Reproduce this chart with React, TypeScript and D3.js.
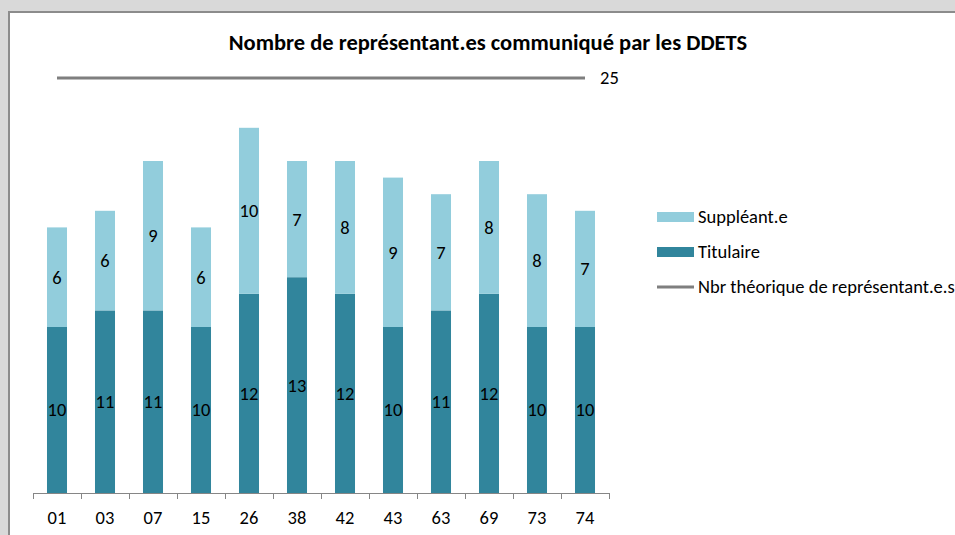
import React from "react";
import * as d3 from "d3";

const categories = ["01", "03", "07", "15", "26", "38", "42", "43", "63", "69", "73", "74"];
const titulaire = [10, 11, 11, 10, 12, 13, 12, 10, 11, 12, 10, 10];
const suppleant = [6, 6, 9, 6, 10, 7, 8, 9, 7, 8, 8, 7];
const theorique = 25;
const title = "Nombre de représentant.es communiqué  par les DDETS";
const legendLabels = ["Suppléant.e", "Titulaire", "Nbr théorique de représentant.e.s"];

const W = 955;
const H = 535;
const FONT = "Carlito, Calibri, 'Liberation Sans Narrow', 'Open Sans', sans-serif";
const DARK = "#31859C";
const LIGHT = "#92CDDC";
const FS = 18.5;

export default function App() {
  const x = d3.scaleBand<string>().domain(categories).range([33, 609]).paddingInner(0.583).paddingOuter(0.2915);
  const y = d3.scaleLinear().domain([0, 25]).range([493, 78]);
  const bw = x.bandwidth();
  const ticks = d3.range(categories.length + 1).map((i) => 33 + (i * (609 - 33)) / categories.length);

  return (
    <svg width={W} height={H} style={{ position: "absolute", left: 0, top: 0, display: "block" }}>
      <rect x={0} y={0} width={W} height={H} fill="#d9d9d9" />
      <rect x={9} y={12} width={W} height={H} fill="#ffffff" stroke="#8c8c8c" strokeWidth={2} />
      <text x={488} y={42} dy="0.35em" textAnchor="middle" fontFamily={FONT} fontWeight="bold" fontSize={22.5} fill="#000">
        {title}
      </text>
      {categories.map((c, i) => {
        const x0 = x(c)!;
        const t = titulaire[i];
        const s = suppleant[i];
        return (
          <g key={c}>
            <rect x={x0} y={y(t)} width={bw} height={y(0) - y(t)} fill={DARK} />
            <rect x={x0} y={y(t + s)} width={bw} height={y(t) - y(t + s)} fill={LIGHT} />
            <text x={x0 + bw / 2} y={(y(0) + y(t)) / 2} dy="0.35em" textAnchor="middle" fontFamily={FONT} fontSize={FS} fill="#000">
              {t}
            </text>
            <text x={x0 + bw / 2} y={(y(t) + y(t + s)) / 2} dy="0.35em" textAnchor="middle" fontFamily={FONT} fontSize={FS} fill="#000">
              {s}
            </text>
            <text x={x0 + bw / 2} y={518} dy="0.35em" textAnchor="middle" fontFamily={FONT} fontSize={FS} fill="#000">
              {c}
            </text>
          </g>
        );
      })}
      <line x1={33} x2={609} y1={y(0) + 0.5} y2={y(0) + 0.5} stroke="#868686" strokeWidth={1} />
      {ticks.map((tx, i) => (
        <line key={i} x1={tx + 0.5} x2={tx + 0.5} y1={y(0)} y2={y(0) + 6} stroke="#868686" strokeWidth={1} />
      ))}
      <line x1={x(categories[0])! + bw / 2} x2={x(categories[categories.length - 1])! + bw / 2} y1={y(theorique)} y2={y(theorique)} stroke="#7f7f7f" strokeWidth={3} />
      <text x={600} y={y(theorique)} dy="0.35em" fontFamily={FONT} fontSize={FS} fill="#000">
        {theorique}
      </text>
      {/* Legend */}
      <rect x={657} y={212} width={37} height={10} fill={LIGHT} />
      <text x={698} y={217} dy="0.35em" fontFamily={FONT} fontSize={FS} fill="#000">{legendLabels[0]}</text>
      <rect x={657} y={247} width={37} height={10} fill={DARK} />
      <text x={698} y={252} dy="0.35em" fontFamily={FONT} fontSize={FS} fill="#000">{legendLabels[1]}</text>
      <line x1={657} x2={694} y1={287} y2={287} stroke="#7f7f7f" strokeWidth={3} />
      <text x={698} y={287} dy="0.35em" fontFamily={FONT} fontSize={FS} fill="#000">{legendLabels[2]}</text>
    </svg>
  );
}
